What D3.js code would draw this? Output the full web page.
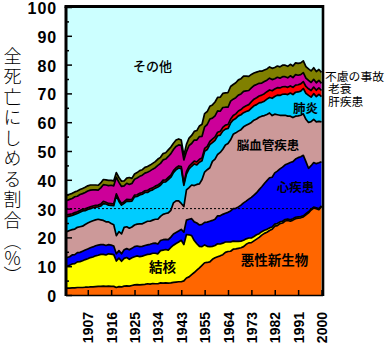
<!DOCTYPE html>
<html><head><meta charset="utf-8">
<script src="https://cdn.jsdelivr.net/npm/d3@7"></script>
<style>body{margin:0;background:#fff} svg{display:block}</style>
</head><body><svg id="c" width="385" height="347"></svg>
<script>
const years = [1899,1900,1901,1902,1903,1904,1905,1906,1907,1908,1909,1910,1911,1912,1913,1914,1915,1916,1917,1918,1919,1920,1921,1922,1923,1924,1925,1926,1927,1928,1929,1930,1931,1932,1933,1934,1935,1936,1937,1938,1939,1940,1941,1942,1943,
1947,1948,1949,1950,1951,1952,1953,1954,1955,1956,1957,1958,1959,1960,1961,1962,1963,1964,1965,1966,1967,1968,1969,1970,1971,1972,1973,1974,1975,1976,1977,1978,1979,1980,1981,1982,1983,1984,1985,1986,1987,1988,1989,1990,1991,1992,1993,1994,1995,1996,1997,1998,1999,2000];

const cancer = [2.4,2.4,2.5,2.5,2.6,2.6,2.6,2.7,2.7,2.8, 2.8,2.9,3.0,3.0,3.1,3.0,3.1,3.0,3.0,2.6, 2.9,2.8,3.1,3.2,3.1,3.3,3.5,3.6,3.5,3.6, 3.7,3.9,3.8,4.0,3.9,3.9,4.2,4.1,4.2,4.1, 4.2,4.4,4.5,4.6,4.6,
4.9,5.9,6.3,7.1,7.8,8.6,9.4,10.3,11.2,11.3, 11.5,12.4,12.9,13.3,13.6,14.0,14.8,15.1,15.2,15.9, 16.0,16.2,16.4,16.8,17.6,18.1,18.2,18.8,19.4,20.0, 20.8,21.4,21.8,22.4,22.8,23.9,24.1,24.8,25.0,25.7, 25.9,25.6,26.0,26.5,26.7,26.8,27.1,27.8,28.5,29.5, 30.2,30.0,29.6,30.7];
const tuberculosis = [7.6,7.9,8.3,8.4,8.9,9.0,9.3,9.6,9.9,10.2, 10.4,10.7,10.8,11.1,11.0,10.9,11.2,11.2,11.0,9.2, 9.9,8.9,9.6,9.8,9.3,9.6,9.8,10.0,9.8,9.9, 10.1,10.2,10.4,10.5,10.6,10.4,11.2,11.5,11.6,11.5, 12.3,12.9,13.4,13.8,14.4,
12.6,15.1,14.6,13.5,11.1,9.2,7.5,6.5,6.2,5.6, 5.3,4.5,4.3,4.5,4.1,4.0,3.6,3.3,3.2,2.8, 2.6,2.4,2.3,2.2,1.9,1.7,1.6,1.5,1.5,1.3, 1.2,1.1,1.0,0.9,0.8,0.7,0.7,0.6,0.6,0.5, 0.5,0.5,0.5,0.5,0.4,0.4,0.4,0.4,0.4,0.3, 0.3,0.3,0.3,0.3];
const heart = [3.0,3.0,3.1,3.1,3.2,3.2,3.3,3.3,3.4,3.4, 3.5,3.5,3.5,3.4,3.4,3.3,3.2,3.1,3.0,2.5, 2.6,2.6,3.0,3.1,3.3,3.3,3.5,3.4,3.5,3.4, 3.4,3.3,3.4,3.4,3.5,3.4,3.5,3.6,3.5,3.6, 3.6,3.9,3.8,3.8,3.8,
4.3,5.0,5.4,5.9,6.5,7.2,7.4,7.7,7.8,8.4, 8.8,9.0,9.1,9.7,9.8,10.0,10.0,10.3,10.8,11.3, 11.5,12.0,12.5,13.0,13.1,13.5,14.1,14.4,14.6,15.3, 15.6,16.2,16.9,17.4,17.3,17.8,18.2,18.4,18.8,19.0, 19.2,19.9,19.8,20.2,20.6,20.8,21.0,18.1,15.1,15.1, 15.5,15.3,16.0,15.3];
const cerebrovascular = [9.0,9.1,8.8,8.9,8.8,8.9,8.7,8.9,9.0,9.0, 9.1,9.0,9.0,8.6,8.4,8.2,7.9,7.5,7.4,6.3, 6.6,6.9,7.8,7.6,7.5,7.4,7.5,7.6,7.9,7.8, 8.0,8.2,8.0,8.1,8.3,8.6,8.4,8.8,9.0,9.3, 9.3,10.8,11.0,10.5,9.0,
8.9,10.5,11.0,11.7,12.6,13.4,14.3,15.6,17.5,18.2, 18.6,20.5,20.9,21.3,22.0,22.6,23.7,23.9,24.7,25.8, 26.2,26.3,26.2,26.4,26.3,26.1,26.0,26.0,25.6,25.1, 24.5,23.6,23.0,22.5,21.4,20.4,19.6,18.6,18.0,17.2, 16.5,16.1,15.3,14.9,14.5,14.4,14.4,14.7,15.9,15.3, 15.0,14.5,14.4,13.8];
const pneumonia = [5.2,5.0,4.9,5.1,4.8,5.0,5.3,4.8,4.7,4.6, 4.5,4.4,4.3,4.8,5.8,6.2,5.8,6.3,6.6,14.0, 10.5,10.0,8.3,8.9,9.3,9.0,9.8,9.6,10.0,10.3, 10.4,10.0,10.6,10.5,10.8,11.2,10.8,11.2,11.0,11.6, 11.5,10.5,10.8,11.4,12.1,
7.4,5.5,6.5,6.5,7.5,6.8,7.5,6.5,7.2,7.0, 8.0,6.5,6.5,6.5,6.0,6.3,5.5,5.2,5.8,5.0, 5.0,5.3,5.2,4.9,4.8,4.6,5.0,5.0,5.0,5.0, 4.8,5.0,5.3,5.4,6.0,6.1,6.8,6.9,7.3,7.4, 7.5,8.0,8.0,8.3,8.3,8.4,8.8,9.0,9.4,8.5, 8.9,8.8,9.4,8.8];
const liver = [0.6,0.6,0.6,0.6,0.6,0.6,0.6,0.6,0.6,0.6, 0.6,0.6,0.6,0.7,0.8,0.6,0.6,0.6,0.6,0.5, 0.6,0.6,0.6,0.6,0.6,0.6,0.6,0.6,0.6,0.6, 0.6,0.7,0.7,0.7,0.7,0.7,0.7,0.7,0.7,0.7, 0.7,0.7,0.7,0.7,0.7,
0.7,0.8,0.9,0.9,1.0,1.0,1.0,1.0,1.0,1.1, 1.1,1.2,1.2,1.2,1.3,1.3,1.4,1.4,1.4,1.5, 1.6,1.7,1.8,1.9,2.0,2.1,2.2,2.3,2.4,2.4, 2.5,2.6,2.6,2.6,2.6,2.6,2.6,2.6,2.6,2.6, 2.5,2.5,2.5,2.5,2.5,2.5,2.4,2.4,2.3,2.3, 2.3,2.2,2.2,2.1];
const senility = [5.0,5.2,5.3,5.5,5.4,5.6,5.4,5.7,5.8,5.8, 5.6,5.4,5.2,5.6,5.8,6.0,6.2,6.4,6.3,5.8, 6.0,5.9,5.5,5.6,5.3,5.5,5.5,5.8,5.9,6.0, 6.1,6.3,6.2,6.5,6.4,6.8,6.9,7.0,7.2,7.3, 7.5,7.3,7.4,7.3,7.4,
8.1,7.0,7.2,7.0,7.3,7.6,7.9,7.5,7.5,7.6, 7.8,7.3,7.3,7.4,7.0,6.9,6.2,6.0,6.2,5.7, 5.6,5.5,5.4,5.5,5.2,4.9,4.8,4.7,4.6,4.4, 4.2,4.2,4.0,4.1,3.9,3.6,3.6,3.4,3.5,3.4, 3.3,3.5,3.4,3.6,3.3,3.2,3.1,2.9,2.9,2.8, 2.7,2.6,2.6,2.5];
const accidents = [1.8,1.8,1.8,1.7,1.8,1.7,1.8,1.8,1.8,1.8, 1.7,1.7,1.7,1.7,1.8,1.8,1.8,1.7,1.7,1.6, 1.7,1.8,1.7,1.8,2.4,1.8,1.8,1.9,2.0,1.9, 2.0,2.0,2.0,2.0,2.1,2.2,2.1,2.2,2.2,2.3, 2.3,2.2,2.2,2.1,1.8,
1.5,2.5,2.6,2.8,3.0,3.3,3.7,4.2,4.6,4.5, 4.4,4.6,4.8,4.7,4.9,4.9,5.0,5.1,5.1,5.1, 5.2,5.3,5.3,5.3,5.1,4.9,4.7,4.4,4.3,4.2, 4.1,4.0,3.9,3.9,3.9,3.9,3.9,3.9,4.0,4.0, 4.0,4.0,4.0,4.1,4.1,4.1,4.1,4.0,4.0,4.0, 4.0,3.9,3.8,3.8];

const seriesNames = ["悪性新生物","結核","心疾患","脳血管疾患","肺炎","肝疾患","老衰","不慮の事故"];
const seriesData = [cancer, tuberculosis, heart, cerebrovascular, pneumonia, liver, senility, accidents];
const colors = ["#FF6600","#FFFF00","#0000FF","#CC9999","#00CCFF","#FF0000","#CC0099","#808000"];
const otherName = "その他";
const otherColor = "#CCFFFF";
const yTicks = [0,10,20,30,40,50,60,70,80,90,100];
const yMinor = [5,15,25,35,45,55,65,75,85,95];
const xTickYears = [1907,1916,1925,1934,1943,1955,1964,1973,1982,1991,2000];
const refLine = 30;
const yTitleMain = "全死亡にしめる割合";
const yTitleUnit = "（％）";

const svg = d3.select("#c");
const PL = 66, PR = 323, PT = 6.5, PB = 295;
const x = d3.scalePoint().domain(years).range([67, 321.5]);
const y = d3.scaleLinear().domain([0, 100]).range([295, 7]);

const rows = years.map((yr, i) => {
  const o = { year: yr };
  seriesNames.forEach((k, j) => o[k] = seriesData[j][i]);
  return o;
});
const stacked = d3.stack().keys(seriesNames)(rows);

// "other" region (remainder up to 100%)
svg.append("rect").attr("x", PL).attr("y", y(100)).attr("width", PR - PL).attr("height", y(0) - y(100)).attr("fill", otherColor);

const area = d3.area().x(d => x(d.data.year)).y0(d => y(d[0])).y1(d => y(d[1]));
const line = d3.line().x(d => x(d.data.year)).y(d => y(d[1]));

svg.append("g").selectAll("path").data(stacked).join("path")
  .attr("d", area).attr("fill", (d, i) => colors[i]);
svg.append("g").selectAll("path").data(stacked).join("path")
  .attr("d", line).attr("fill", "none").attr("stroke", "#000").attr("stroke-width", 1.7).attr("stroke-linejoin", "round");

// reference dotted line
svg.append("line").attr("x1", PL).attr("x2", PR).attr("y1", y(refLine)).attr("y2", y(refLine))
  .attr("stroke", "#000").attr("stroke-width", 1).attr("stroke-dasharray", "2,2");

// axes
const gy = svg.append("g").attr("transform", `translate(${PL},0)`)
  .call(d3.axisLeft(y).tickValues(yTicks).tickSizeInner(-6).tickSizeOuter(0).tickPadding(9));
gy.select(".domain").remove();
gy.selectAll("line").attr("stroke", "#000").attr("stroke-width", 1.5);
gy.selectAll("text").attr("font-family", "'Liberation Sans', Arial, sans-serif").attr("font-weight", "bold")
  .attr("font-size", 16).attr("fill", "#000").attr("letter-spacing", 0.9).attr("x", -9).attr("dy", "0.4em");
const gym = svg.append("g").attr("transform", `translate(${PL},0)`)
  .call(d3.axisLeft(y).tickValues(yMinor).tickSizeInner(-3).tickSizeOuter(0).tickFormat(""));
gym.select(".domain").remove();
gym.selectAll("line").attr("stroke", "#000").attr("stroke-width", 1.5);

const gx = svg.append("g").attr("transform", `translate(0,${PB})`)
  .call(d3.axisBottom(x).tickValues(xTickYears).tickSizeInner(-5).tickSizeOuter(0));
gx.select(".domain").remove();
gx.selectAll("line").attr("stroke", "#000").attr("stroke-width", 1.5);
gx.selectAll("text").attr("transform", "rotate(-90)").attr("text-anchor", "end")
  .attr("x", -17).attr("y", 0).attr("dy", "0.36em")
  .attr("font-family", "'Liberation Sans', Arial, sans-serif").attr("font-weight", "bold")
  .attr("font-size", 14).attr("fill", "#000");

// frame
svg.append("line").attr("x1", PL - 1.5).attr("x2", PR).attr("y1", PT).attr("y2", PT).attr("stroke", "#000").attr("stroke-width", 3);
svg.append("line").attr("x1", PL).attr("x2", PL).attr("y1", PT).attr("y2", PB + 1).attr("stroke", "#000").attr("stroke-width", 3);
svg.append("line").attr("x1", PR).attr("x2", PR).attr("y1", PT - 1.5).attr("y2", PB + 1).attr("stroke", "#000").attr("stroke-width", 2.6);
svg.append("line").attr("x1", PL).attr("x2", PR).attr("y1", PB + 0.5).attr("y2", PB + 0.5).attr("stroke", "#000").attr("stroke-width", 1.5);

// y-axis title (vertical, one text element)
const cjk = "'Noto Sans CJK JP', sans-serif";
const title = svg.append("text").attr("x", 12.5).attr("y", 47)
  .style("writing-mode", "vertical-rl").style("text-orientation", "upright")
  .attr("font-family", cjk).attr("font-size", 18).attr("font-weight", 300).attr("fill", "#000");
title.append("tspan").attr("letter-spacing", 2.5).text(yTitleMain);
title.append("tspan").attr("letter-spacing", -1).text(yTitleUnit);

// in-chart labels
const labels = [
  { t: otherName, x: 152.5, y: 65, s: 13, w: 500 },
  { t: seriesNames[1], x: 162.5, y: 266, s: 13.5, w: 700 },
  { t: seriesNames[0], x: 274.5, y: 259, s: 13.5, w: 700 },
  { t: seriesNames[2], x: 295.5, y: 186, s: 12.5, w: 700 },
  { t: seriesNames[3], x: 268, y: 144, s: 12.5, w: 700 },
  { t: seriesNames[4], x: 305.5, y: 107, s: 12.5, w: 700 }
];
svg.append("g").selectAll("text").data(labels).join("text")
  .attr("x", d => d.x).attr("y", d => d.y).attr("text-anchor", "middle").attr("dominant-baseline", "central")
  .attr("font-family", cjk).attr("font-size", d => d.s).attr("font-weight", d => d.w).attr("fill", "#000").text(d => d.t);

// labels for the thin top bands at the right edge: one tightly stacked text block
const sideNames = [seriesNames[7], seriesNames[6], seriesNames[5]];
const fo = svg.append("foreignObject").attr("x", 322).attr("y", 69.8).attr("width", 63).attr("height", 40);
fo.append("xhtml:div")
  .style("font-family", cjk).style("font-size", "11.8px").style("line-height", "12.5px")
  .style("color", "#000").style("padding-left", "6px").style("text-indent", "-3px").style("white-space", "pre")
  .text(sideNames.join("\n"));
</script></body></html>
